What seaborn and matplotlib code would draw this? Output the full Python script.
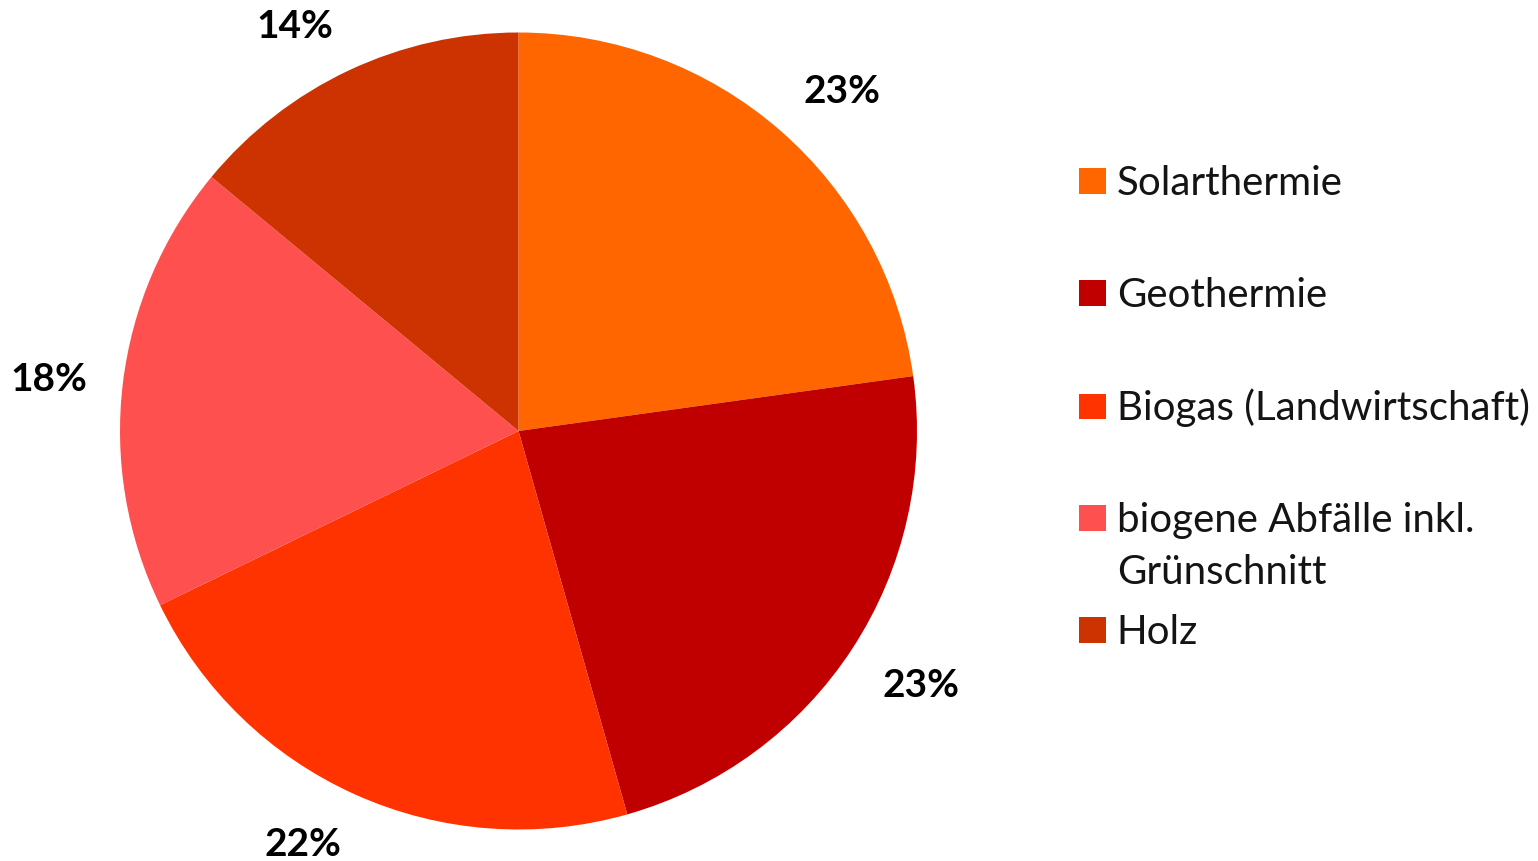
import matplotlib
matplotlib.use("Agg")
import matplotlib.pyplot as plt
import seaborn as sns

categories = ["Solarthermie", "Geothermie", "Biogas (Landwirtschaft)",
              "biogene Abfälle inkl.", "Holz"]
label_continuation = ["", "", "", "Grünschnitt", ""]
values = [22.8, 22.8, 22.2, 18.2, 14.0]
colors = ["#FF6600", "#C00000", "#FF3300", "#FF5050", "#CC3300"]

sns.set_theme(style="white")
plt.rcParams["font.family"] = ["Lato", "DejaVu Sans"]

W, H = 1538, 861
fig = plt.figure(figsize=(W / 100, H / 100), dpi=100)
fig.patch.set_facecolor("white")
ax = fig.add_axes([120 / W, 31 / H, 797 / W, 798 / H])

palette = sns.color_palette(colors)
wedges, texts, autotexts = ax.pie(
    values, colors=palette, startangle=90, counterclock=False,
    autopct="%.0f%%", pctdistance=1.09, radius=1,
    wedgeprops=dict(linewidth=0),
    textprops=dict(fontsize=28, fontweight="bold", color="black"),
)
# Excel-like outside label alignment: the label's inner corner touches the anchor
for at in autotexts:
    x, y = at.get_position()
    at.set_ha("left" if x > 0 else "right")
    if y > 0.35:
        at.set_va("baseline")
    elif y < -0.35:
        at.set_va("top")
    else:
        at.set_va("center")

ax.set_xlim(-1, 1)
ax.set_ylim(-1, 1)
ax.set_aspect("equal")
ax.axis("off")

fs = 29
leg = fig.legend(
    wedges, categories, loc="upper left",
    bbox_to_anchor=(1079 / W, 1 - 165 / H), frameon=False,
    fontsize=fs, handlelength=0.67, handleheight=0.6, handletextpad=0.27,
    labelspacing=1.86, borderpad=0, borderaxespad=0,
)
for t, extra in zip(leg.get_texts(), label_continuation):
    t.set_color("#141414")
    if extra:
        ann = plt.Annotation(
            extra, xy=(0, 0), xycoords=t, xytext=(0, -52 * 0.72),
            textcoords="offset points", ha="left", va="bottom",
            fontsize=fs, color="#141414")
        ann.set_zorder(20)
        fig.add_artist(ann)

fig.savefig("out.png", dpi=100, facecolor="white")
